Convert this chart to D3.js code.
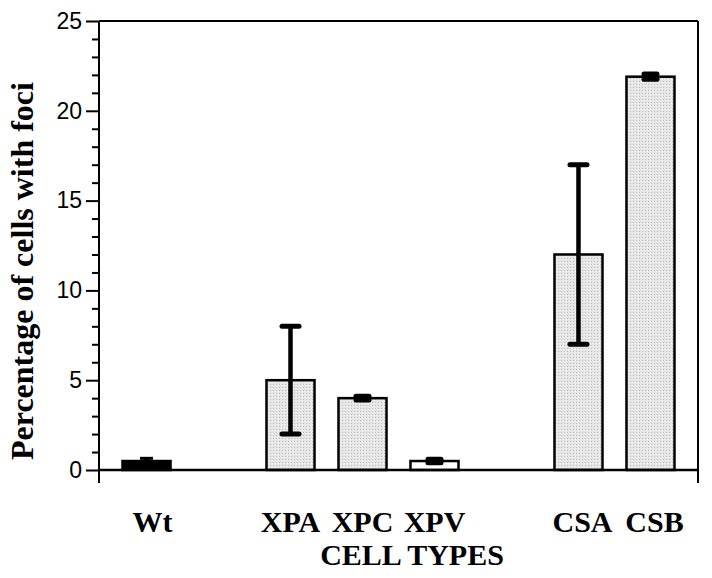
<!DOCTYPE html>
<html>
<head>
<meta charset="utf-8">
<script src="https://cdn.jsdelivr.net/npm/d3@7"></script>
<style>
  body { margin: 0; background: #fff; }
  svg { display: block; }
</style>
</head>
<body>
<div id="chart"></div>
<script>
// cell types, their slot on the x axis, mean % and error
const categories = ["Wt", "XPA", "XPC", "XPV", "CSA", "CSB"]
const slots = [0, 2, 3, 4, 6, 7]
const values = [0.5, 5, 4, 0.5, 12, 21.9]
const errors = [0.15, 3, 0.1, 0.1, 5, 0.15]
const fills = ["black", "pattern", "pattern", "white", "pattern", "pattern"]
const yTicks = [0, 5, 10, 15, 20, 25]

const width = 712, height = 578
const plotLeft = 99, plotRight = 698, plotTop = 21, plotBottom = 470

const svg = d3.select("#chart").append("svg")
    .attr("width", width)
    .attr("height", height)

// dithered grey fill
const pat = svg.append("defs").append("pattern")
    .attr("id", "dots")
    .attr("width", 3).attr("height", 3)
    .attr("patternUnits", "userSpaceOnUse")
pat.append("rect").attr("width", 3).attr("height", 3).attr("fill", "#e6e6e6")
pat.append("rect").attr("width", 1).attr("height", 1).attr("fill", "#bdbdbd")
pat.append("rect").attr("x", 2).attr("y", 1).attr("width", 1).attr("height", 1).attr("fill", "#f5f5f5")

const x = d3.scaleLinear().domain([-0.66, 7.66]).range([plotLeft, plotRight])
const y = d3.scaleLinear().domain([0, 25]).range([plotBottom, plotTop])
const barW = x(0.667) - x(0)

// y axis: major ticks every 5, minor every 1
const yAxis = d3.axisLeft(y)
    .tickValues(yTicks)
    .tickSize(13)
    .tickPadding(4)
const gy = svg.append("g")
    .attr("transform", `translate(${plotLeft},0)`)
    .call(yAxis)
gy.select(".domain").remove()
gy.selectAll(".tick line").attr("stroke", "#000").attr("stroke-width", 2)
gy.selectAll(".tick text")
    .attr("font-family", "Liberation Sans, Arial, sans-serif")
    .attr("font-size", 23)
    .attr("fill", "#000")

const gyMinor = svg.append("g")
    .attr("transform", `translate(${plotLeft},0)`)
    .call(d3.axisLeft(y)
        .tickValues(d3.range(0, 26).filter(d => d % 5 !== 0))
        .tickSize(7)
        .tickFormat(""))
gyMinor.select(".domain").remove()
gyMinor.selectAll(".tick line").attr("stroke", "#000").attr("stroke-width", 2)

// frame
const frame = svg.append("g")
    .attr("fill", "none")
    .attr("stroke", "#000")
    .attr("stroke-width", 2)
frame.append("line").attr("x1", plotLeft).attr("x2", plotLeft).attr("y1", plotTop).attr("y2", plotBottom + 13)
frame.append("line").attr("x1", plotRight).attr("x2", plotRight).attr("y1", plotTop).attr("y2", plotBottom + 13)
frame.append("line").attr("x1", plotLeft).attr("x2", plotRight).attr("y1", plotTop).attr("y2", plotTop)

// bars
svg.append("g")
    .selectAll("rect")
    .data(categories)
    .join("rect")
    .attr("x", (d, i) => x(slots[i]) - barW / 2)
    .attr("y", (d, i) => y(values[i]))
    .attr("width", barW)
    .attr("height", (d, i) => y(0) - y(values[i]))
    .attr("fill", (d, i) => fills[i] === "pattern" ? "url(#dots)" : fills[i])
    .attr("stroke", "#000")
    .attr("stroke-width", 2.5)

// baseline at 0
svg.append("line")
    .attr("x1", plotLeft).attr("x2", plotRight)
    .attr("y1", y(0)).attr("y2", y(0))
    .attr("stroke", "#000")
    .attr("stroke-width", 2.5)

// error bars
const eb = svg.append("g").attr("stroke", "#000")
categories.forEach((c, i) => {
    const cx = x(slots[i])
    const hi = values[i] + errors[i]
    const lo = values[i] - errors[i]
    const small = errors[i] < 1
    const capW = small ? 13 : 17
    eb.append("line")
        .attr("x1", cx).attr("x2", cx)
        .attr("y1", y(hi)).attr("y2", y(lo))
        .attr("stroke-width", small ? 4 : 4.5)
    const caps = c === "Wt" ? [hi] : [hi, lo]
    caps.forEach(v => {
        eb.append("line")
            .attr("x1", cx - capW / 2).attr("x2", cx + capW / 2)
            .attr("y1", y(v)).attr("y2", y(v))
            .attr("stroke-width", c === "Wt" ? 3 : 5)
            .attr("stroke-linecap", c === "Wt" ? "butt" : "round")
    })
})

// category labels
svg.append("g")
    .selectAll("text")
    .data(categories)
    .join("text")
    .attr("x", (d, i) => x(slots[i]) + (d === "Wt" ? 6 : d.startsWith("CS") ? 4 : 0))
    .attr("y", 532)
    .attr("text-anchor", "middle")
    .attr("font-family", "Liberation Serif, Times New Roman, serif")
    .attr("font-weight", "bold")
    .attr("font-size", 30)
    .text(d => d)

svg.append("text")
    .attr("x", 412)
    .attr("y", 565)
    .attr("text-anchor", "middle")
    .attr("font-family", "Liberation Serif, Times New Roman, serif")
    .attr("font-weight", "bold")
    .attr("font-size", 30)
    .text("CELL TYPES")

svg.append("text")
    .attr("transform", "translate(33,271) rotate(-90)")
    .attr("text-anchor", "middle")
    .attr("font-family", "Liberation Serif, Times New Roman, serif")
    .attr("font-weight", "bold")
    .attr("font-size", 32)
    .text("Percentage of cells with foci")
</script>
</body>
</html>
